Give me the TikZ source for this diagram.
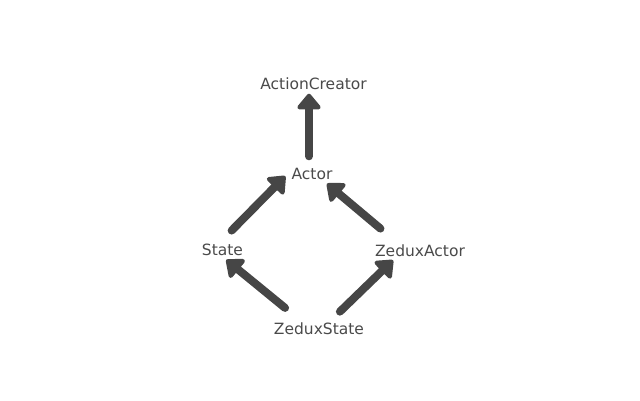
\documentclass[tikz,border=0pt]{standalone}
\usepackage{fontspec}
\setmainfont{DejaVu Sans}
\usetikzlibrary{arrows.meta}
\definecolor{zeduxtext}{HTML}{4A4A4A}
\definecolor{zeduxarrow}{HTML}{464646}
\begin{document}
\begin{tikzpicture}[x=1pt, y=-1pt,
  label/.style={text=zeduxtext, inner sep=4pt, text height=11pt, text depth=0pt,
    font=\fontsize{15.5}{18}\selectfont},
  inherit/.style={draw=zeduxarrow, line width=8pt, line cap=round,
    -{Triangle[length=17pt, width=27pt, round]}}]
\useasboundingbox (0,0) rectangle (640,400);

\node[label] (actioncreator) at (313.5,84) {ActionCreator};
\node[label] (actor) at (312,174) {Actor};
\node[label] (state) at (222.5,249.5) {State};
\node[label] (zeduxactor) at (420,250.5) {ZeduxActor};
\node[label] (zeduxstate) at (319,329) {ZeduxState};

\draw[inherit, shorten <=8pt] ([xshift=-3pt]actor.north) -- ([xshift=-4.5pt]actioncreator.south);
\draw[inherit, shorten <=13pt, shorten >=3pt] (state.north) -- (actor.west);
\draw[inherit, shorten <=19pt] ([xshift=-25pt]zeduxactor.north) -- ([xshift=15pt]actor.south);
\draw[inherit, shorten <=18pt, shorten >=1pt] ([xshift=-20pt]zeduxstate.north) -- ([xshift=3pt]state.south);
\draw[inherit, shorten <=11pt] ([xshift=13pt]zeduxstate.north) -- ([xshift=-27pt]zeduxactor.south);
\end{tikzpicture}
\end{document}
